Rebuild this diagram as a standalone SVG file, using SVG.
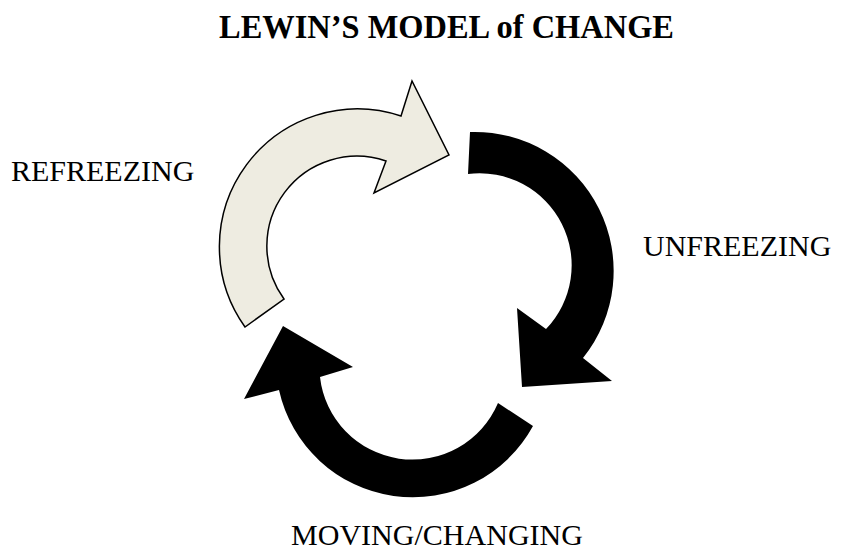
<svg xmlns="http://www.w3.org/2000/svg" width="846" height="554" viewBox="0 0 846 554">
<style>
.lbl{font-family:"Liberation Serif","Times New Roman",serif;font-size:30px;fill:#000}
.title{font-family:"Liberation Serif","Times New Roman",serif;font-size:33px;font-weight:bold;fill:#000}
.dark{fill:#000}
.light{fill:#EEECE1;stroke:#000;stroke-width:1.5;stroke-linejoin:miter}
</style>
<rect width="846" height="554" fill="#fff"/>
<g id="title"><text class="title" x="219" y="38" textLength="455" lengthAdjust="spacingAndGlyphs">LEWIN’S MODEL of  CHANGE</text></g>
<g id="connectors">
<path id="arrow-refreezing" class="light" d="M245,327 A138 138 0 0 1 401,116 L412,81 L449,155 L374,193 L386,161 A90 90 0 0 0 284,299 Z"/>
<path id="arrow-unfreezing" class="dark" d="M470,132 A139 139 0 0 1 583,358 L612,381 L522,387 L517,308 L546,329 A92 92 0 0 0 468,174 Z"/>
<path id="arrow-moving" class="dark" d="M533,426 A137 137 0 0 1 279,390 L244,399 L283,326 L353,367 L320,377 A93 93 0 0 0 498,403 Z"/>
</g>
<g id="node-refreezing"><text class="lbl" x="11" y="181">REFREEZING</text></g>
<g id="node-unfreezing"><text class="lbl" x="643" y="256">UNFREEZING</text></g>
<g id="node-moving"><text class="lbl" x="291" y="545" textLength="292" lengthAdjust="spacingAndGlyphs">MOVING/CHANGING</text></g>
</svg>
